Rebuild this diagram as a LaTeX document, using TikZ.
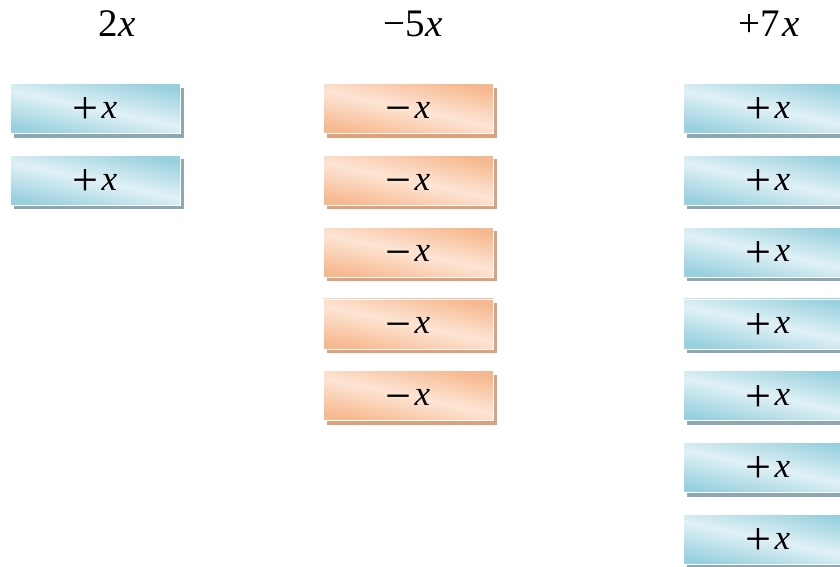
\documentclass[tikz,border=0pt]{standalone}
\usepackage{fontspec}
\setmainfont{Liberation Serif}
\usetikzlibrary{shadows}
\definecolor{bdark}{HTML}{98D0DE}
\definecolor{blight}{HTML}{E0F1F6}
\definecolor{bshadow}{HTML}{8EA8B2}
\definecolor{odark}{HTML}{F6B88E}
\definecolor{olight}{HTML}{FDE5D5}
\definecolor{oshadow}{HTML}{DDA27C}
\tikzset{
  tile/.style={rectangle, minimum width=170pt, minimum height=50pt, inner sep=0pt,
    draw=white, line width=0.8pt, font=\fontsize{35}{40}\selectfont},
  postile/.style={tile, top color=bdark, bottom color=bdark, middle color=blight, shading angle=-12,
    drop shadow={shadow xshift=4pt, shadow yshift=-4pt, fill=bshadow, opacity=1}},
  negtile/.style={tile, top color=odark, bottom color=odark, middle color=olight, shading angle=-12,
    drop shadow={shadow xshift=4pt, shadow yshift=-4pt, fill=oshadow, opacity=1}},
  head/.style={font=\fontsize{39}{45}\selectfont, inner sep=0pt}
}
\newcommand{\bigpl}{\smash{\raisebox{-5.5pt}{\fontsize{46}{46}\selectfont +}}}
\newcommand{\bigmi}{\smash{\raisebox{-5.5pt}{\fontsize{46}{46}\selectfont −}}}
\newcommand{\px}{\bigpl\hspace{0.08em}\textit{x}\vphantom{+}}
\newcommand{\mx}{\bigmi\hspace{0.08em}\textit{x}\vphantom{+}}
\begin{document}
\begin{tikzpicture}[x=1pt,y=-1pt]
\useasboundingbox (0,0) rectangle (840,566);
\clip (0,0) rectangle (840,566);
\node[head] (h1) at (117,24) {2\textit{x}};
\node[head] (h2) at (413,24) {−5\textit{x}};
\node[head] (h3) at (769,24) {+7\hspace{0.05em}\textit{x}};
\foreach \k in {0,1} {
  \node[postile] (a\k) at (95,{108.5+71.8*\k}) {\px};
}
\foreach \k in {0,...,4} {
  \node[negtile] (b\k) at (408,{108.5+71.8*\k}) {\mx};
}
\foreach \k in {0,...,6} {
  \node[postile] (c\k) at (768,{108.5+71.8*\k}) {\px};
}
\end{tikzpicture}
\end{document}
